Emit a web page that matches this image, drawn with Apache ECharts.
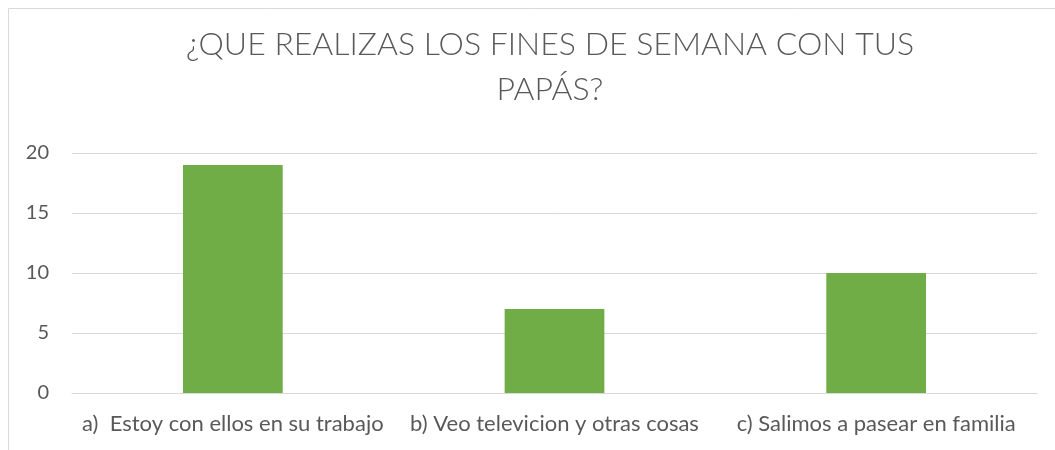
<!DOCTYPE html>
<html>
<head>
<meta charset="utf-8">
<script src="https://cdn.jsdelivr.net/npm/echarts@6/dist/echarts.min.js"></script>
<style>
  html, body { margin: 0; padding: 0; background: #fff; }
  #chart { width: 1055px; height: 450px; }
</style>
</head>
<body>
<div id="chart"></div>
<script>
  const titleText = '¿QUE REALIZAS LOS FINES DE SEMANA CON TUS\nPAPÁS?';
  const categories = [
    'a)  Estoy con ellos en su trabajo',
    'b) Veo televicion y otras cosas',
    'c) Salimos a pasear en familia',
  ];
  const values = [19, 7, 10];
  const yTicks = { min: 0, max: 20, interval: 5 };

  const chart = echarts.init(document.getElementById('chart'));

  chart.setOption({
    animation: false,
    textStyle: { fontFamily: 'Lato' },
    graphic: [
      {
        type: 'rect',
        shape: { x: 8.5, y: 8.5, width: 1200, height: 600 },
        style: { fill: 'none', stroke: '#d9d9d9', lineWidth: 1 },
      },
    ],
    title: {
      text: titleText,
      left: 545,
      top: 17,
      textAlign: 'center',
      textStyle: {
        color: '#595959',
        fontFamily: 'Lato',
        fontWeight: 300,
        fontSize: 32,
        lineHeight: 45,
      },
    },
    grid: {
      top: 153,
      left: 72,
      right: 18,
      bottom: 57,
      containLabel: false,
    },
    xAxis: {
      type: 'category',
      data: categories,
      axisLine: { show: true, lineStyle: { color: '#d9d9d9' } },
      axisTick: { show: false },
      axisLabel: {
        color: '#595959',
        fontSize: 22,
        margin: 20,
        interval: 0,
      },
    },
    yAxis: {
      type: 'value',
      min: yTicks.min,
      max: yTicks.max,
      interval: yTicks.interval,
      axisLine: { show: false },
      axisTick: { show: false },
      axisLabel: { color: '#595959', fontSize: 20, margin: 23 },
      splitLine: { lineStyle: { color: '#d9d9d9' } },
    },
    series: [
      {
        type: 'bar',
        data: values,
        barWidth: '31%',
        itemStyle: { color: '#70ad47' },
      },
    ],
  });
</script>
</body>
</html>
